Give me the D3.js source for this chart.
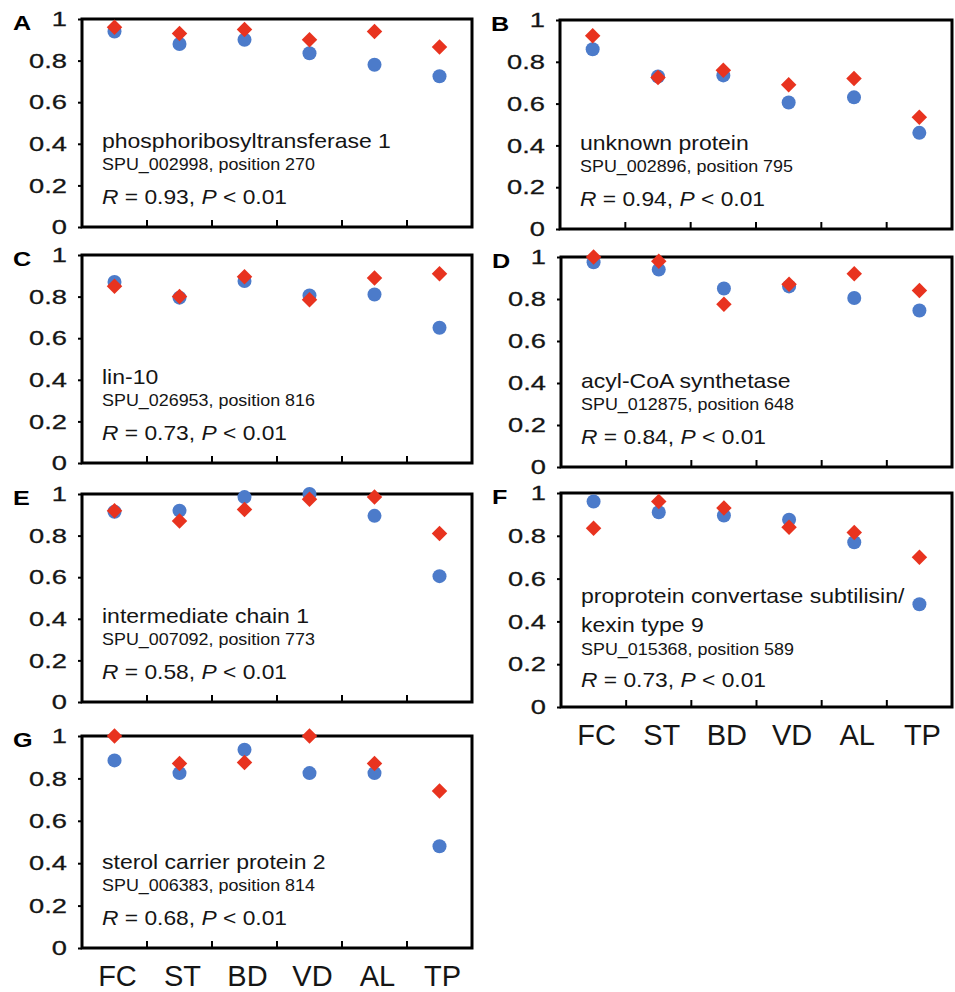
<!DOCTYPE html>
<html>
<head>
<meta charset="utf-8">
<script src="https://cdn.jsdelivr.net/npm/d3@7"></script>
<style>
  body { margin: 0; background: #fff; }
  svg { display: block; font-family: "Liberation Sans", Arial, sans-serif; }
</style>
</head>
<body>
<div id="chart"></div>
<script>
'use strict';

// data
var categories = ['FC', 'ST', 'BD', 'VD', 'AL', 'TP'];
var yTicks = [0, 0.2, 0.4, 0.6, 0.8, 1];

var blueA = [0.94, 0.88, 0.90, 0.835, 0.78, 0.725];
var redA  = [0.96, 0.93, 0.95, 0.90, 0.94, 0.865];
var blueB = [0.86, 0.73, 0.735, 0.605, 0.63, 0.46];
var redB  = [0.925, 0.725, 0.76, 0.69, 0.72, 0.535];
var blueC = [0.87, 0.795, 0.875, 0.805, 0.81, 0.65];
var redC  = [0.85, 0.80, 0.895, 0.785, 0.89, 0.91];
var blueD = [0.975, 0.94, 0.85, 0.86, 0.805, 0.745];
var redD  = [1.0, 0.98, 0.775, 0.87, 0.92, 0.84];
var blueE = [0.915, 0.92, 0.985, 1.0, 0.895, 0.605];
var redE  = [0.92, 0.87, 0.925, 0.975, 0.985, 0.81];
var blueF = [0.96, 0.91, 0.895, 0.875, 0.77, 0.48];
var redF  = [0.835, 0.96, 0.93, 0.84, 0.815, 0.70];
var blueG = [0.885, 0.825, 0.935, 0.825, 0.825, 0.48];
var redG  = [1.0, 0.87, 0.875, 1.0, 0.87, 0.74];

var letters = ['A', 'B', 'C', 'D', 'E', 'F', 'G'];
var geneNames = [
  ['phosphoribosyltransferase 1'],
  ['unknown protein'],
  ['lin-10'],
  ['acyl-CoA synthetase'],
  ['intermediate chain 1'],
  ['proprotein convertase subtilisin/', 'kexin type 9'],
  ['sterol carrier protein 2']
];
var geneIds = [
  'SPU_002998, position 270',
  'SPU_002896, position 795',
  'SPU_026953, position 816',
  'SPU_012875, position 648',
  'SPU_007092, position 773',
  'SPU_015368, position 589',
  'SPU_006383, position 814'
];
var rValues = ['0.93', '0.94', '0.73', '0.84', '0.58', '0.73', '0.68'];
var pValues = ['0.01', '0.01', '0.01', '0.01', '0.01', '0.01', '0.01'];

var blueSeries = [blueA, blueB, blueC, blueD, blueE, blueF, blueG];
var redSeries = [redA, redB, redC, redD, redE, redF, redG];

// panel boxes (layout)
var boxes = [
  {left: 82,  right: 472, top: 19,  bottom: 227},
  {left: 560, right: 952, top: 20,  bottom: 229},
  {left: 82,  right: 472, top: 255, bottom: 463},
  {left: 561, right: 952, top: 257, bottom: 467},
  {left: 82,  right: 472, top: 494, bottom: 702},
  {left: 561, right: 952, top: 493, bottom: 707},
  {left: 82,  right: 472, top: 736, bottom: 948}
];
var xLabelPanels = [5, 6];

var blue = '#4c7bca',
    red = '#e8331f',
    ink = '#151515';

var svg = d3.select('#chart')
  .append('svg')
    .attr('width', 955)
    .attr('height', 992);

var diamond = d3.symbol().type(d3.symbolSquare).size(120);

boxes.forEach(function(b, i) {
  var x = d3.scaleBand().domain(categories).range([b.left, b.right]);
  var y = d3.scaleLinear().domain([0, 1]).range([b.bottom, b.top]);
  var g = svg.append('g');

  // left axis ticks + labels
  var yAxis = d3.axisLeft(y)
    .tickValues(yTicks)
    .tickSize(4)
    .tickPadding(11)
    .tickFormat(function(d) { return d; });
  var ag = g.append('g')
    .attr('transform', 'translate(' + b.left + ',0)')
    .call(yAxis);
  ag.select('.domain').remove();
  ag.selectAll('line').attr('stroke', '#000').attr('stroke-width', 2);
  ag.selectAll('text')
    .attr('font-family', '"Liberation Sans", Arial, sans-serif')
    .attr('font-size', 21)
    .attr('fill', ink)
    .attr('stroke', ink)
    .attr('stroke-width', 0.3)
    .attr('x', -15 / 1.3)
    .attr('transform', 'scale(1.3,1)');

  // frame
  g.append('rect')
    .attr('x', b.left)
    .attr('y', b.top)
    .attr('width', b.right - b.left)
    .attr('height', b.bottom - b.top)
    .attr('fill', 'none')
    .attr('stroke', '#000')
    .attr('stroke-width', 3);

  // inner ticks at category boundaries
  g.selectAll('.btick')
    .data(categories.slice(1))
    .enter().append('line')
      .attr('x1', function(d) { return x(d); })
      .attr('x2', function(d) { return x(d); })
      .attr('y1', b.bottom)
      .attr('y2', b.bottom - 7)
      .attr('stroke', '#000')
      .attr('stroke-width', 2);

  // panel letter
  g.append('text')
    .attr('transform', 'translate(' + (b.left - 69) + ',' + (b.top + 11) + ') scale(1.2,1)')
    .attr('font-size', 21)
    .attr('font-weight', 'bold')
    .text(letters[i]);

  // annotation text
  var names = geneNames[i];
  var tall = names.length > 1;
  var tx = b.left + 20;
  var nameBase = tall ? b.bottom - 104 : b.bottom - 79;
  names.forEach(function(n, k) {
    g.append('text')
      .attr('transform', 'translate(' + tx + ',' + (nameBase + k * 29) + ') scale(1.15,1)')
      .attr('font-size', 20)
      .attr('fill', ink)
      .text(n);
  });
  g.append('text')
    .attr('transform', 'translate(' + tx + ',' + (tall ? b.bottom - 52 : b.bottom - 57) + ') scale(1.12,1)')
    .attr('font-size', 16)
    .attr('fill', ink)
    .text(geneIds[i]);
  var rt = g.append('text')
    .attr('transform', 'translate(' + tx + ',' + (tall ? b.bottom - 20 : b.bottom - 23) + ') scale(1.14,1)')
    .attr('font-size', 20)
    .attr('fill', ink);
  rt.append('tspan').attr('font-style', 'italic').text('R');
  rt.append('tspan').text(' = ' + rValues[i] + ', ');
  rt.append('tspan').attr('font-style', 'italic').text('P');
  rt.append('tspan').text(' < ' + pValues[i]);

  // markers: circles then diamonds on top
  var cx = function(d, j) { return x(categories[j]) + x.bandwidth() / 2; };
  g.selectAll('.dot')
    .data(blueSeries[i])
    .enter().append('circle')
      .attr('cx', cx)
      .attr('cy', function(d) { return y(d); })
      .attr('r', 7)
      .attr('fill', blue);
  g.selectAll('.dia')
    .data(redSeries[i])
    .enter().append('path')
      .attr('d', diamond)
      .attr('transform', function(d, j) {
        return 'translate(' + cx(d, j) + ',' + y(d) + ') rotate(45)';
      })
      .attr('fill', red);

  // category labels under the bottom panels
  if (xLabelPanels.indexOf(i) >= 0) {
    g.selectAll('.xl')
      .data(categories)
      .enter().append('text')
        .attr('x', function(d) { return x(d) + x.bandwidth() / 2 + 3; })
        .attr('y', b.bottom + 38)
        .attr('text-anchor', 'middle')
        .attr('font-size', 29)
        .attr('fill', ink)
        .text(function(d) { return d; });
  }
});
</script>
</body>
</html>
